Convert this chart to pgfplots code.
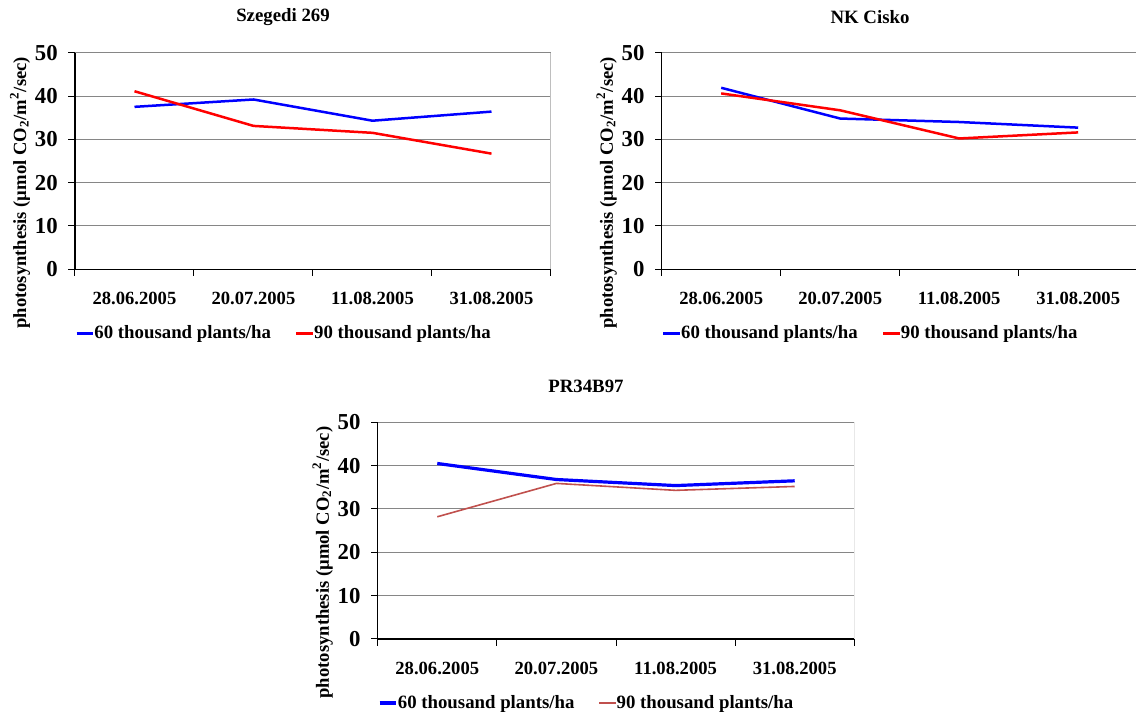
\documentclass[border=0pt]{standalone}
\usepackage{fontspec}
\setmainfont{Liberation Serif}
\usepackage{pgfplots}
\pgfplotsset{compat=1.18}

\definecolor{blueL}{RGB}{0,0,255}
\definecolor{redL}{RGB}{255,0,0}
\definecolor{redM}{RGB}{192,80,77}
\definecolor{gridc}{RGB}{134,134,134}
\definecolor{borderc}{RGB}{190,190,190}

\pgfplotsset{
  panel/.style={
    scale only axis, width=238pt, height=108.3pt,
    xmin=0.5, xmax=4.5, ymin=0, ymax=50,
    axis lines=left, axis line style={-, black, line width=0.6pt},
    xtick={0.5,1.5,2.5,3.5,4.5},
    xticklabels={28.06.2005,20.07.2005,11.08.2005,31.08.2005},
    x tick label as interval,
    ytick={0,10,20,30,40,50},
    tick align=outside, major tick length=3.3pt,
    tick style={black, line width=0.5pt},
    ymajorgrids, major grid style={gridc, line width=0.5pt},
    /pgf/number format/assume math mode=true,
    y tick label style={font=\bfseries\fontsize{11.4}{12}\selectfont, xshift=-1.8pt},
    x tick label style={font=\bfseries\fontsize{9.3}{11}\selectfont, yshift=-4.5pt},
    ylabel={photosynthesis (µmol CO\textsubscript{2}/m\textsuperscript{2}/sec)},
    y label style={at={(rel axis cs:-0.1155,0.353)}, anchor=center, font=\bfseries\fontsize{9.3}{11}\selectfont},
    every axis title shift=0pt,
    title style={font=\bfseries\fontsize{9.4}{11}\selectfont, anchor=center},
    legend columns=2,
    legend style={draw=none, fill=none, inner sep=0pt,
      at={(rel axis cs:0.0,-0.2955)}, anchor=west,
      font=\bfseries\fontsize{9.4}{11}\selectfont,
      nodes={inner sep=0pt},
      /tikz/every even column/.append style={column sep=12pt}},
    legend image code/.code={\draw[#1] (0pt,0pt) -- (8.3pt,0pt);},
  }
}

\begin{document}
\begin{tikzpicture}
\useasboundingbox (0pt,0pt) rectangle (568pt,-357.5pt);

% Panel 1
\begin{axis}[panel, at={(37.5pt,-134.65pt)}, anchor=south west,
  title={Szegedi 269}, title style={at={(rel axis cs:0.437,1.166)}}]
\addplot[blueL, line width=1.25pt, line join=round] coordinates {(1,37.5) (2,39.2) (3,34.3) (4,36.4)};
\addplot[redL, line width=1.25pt, line join=round] coordinates {(1,41.1) (2,33.1) (3,31.5) (4,26.7)};
\legend{60 thousand plants/ha, 90 thousand plants/ha}
\draw[borderc, line width=0.5pt] (rel axis cs:1,0) -- (rel axis cs:1,1);
\end{axis}

% Panel 2
\begin{axis}[panel, at={(330.85pt,-134.65pt)}, anchor=south west,
  title={NK Cisko}, title style={at={(rel axis cs:0.4376,1.166)}}]
\addplot[blueL, line width=1.25pt, line join=round] coordinates {(1,41.9) (2,34.8) (3,34.0) (4,32.7)};
\addplot[redL, line width=1.25pt, line join=round] coordinates {(1,40.6) (2,36.7) (3,30.2) (4,31.6)};
\legend{60 thousand plants/ha, 90 thousand plants/ha}
\end{axis}

% Panel 3
\begin{axis}[panel, at={(188.85pt,-319.5pt)}, anchor=south west,
  width=238.3pt, height=108.35pt,
  title={PR34B97}, title style={at={(rel axis cs:0.437,1.164)}}]
\addplot[blueL, line width=1.6pt, line join=round] coordinates {(1,40.5) (2,36.8) (3,35.4) (4,36.5)};
\addplot[redM, line width=0.8pt, line join=round] coordinates {(1,28.2) (2,35.9) (3,34.3) (4,35.2)};
\legend{60 thousand plants/ha, 90 thousand plants/ha}
\draw[borderc, line width=0.5pt] (rel axis cs:1,0) -- (rel axis cs:1,1);
\end{axis}
\end{tikzpicture}
\end{document}
